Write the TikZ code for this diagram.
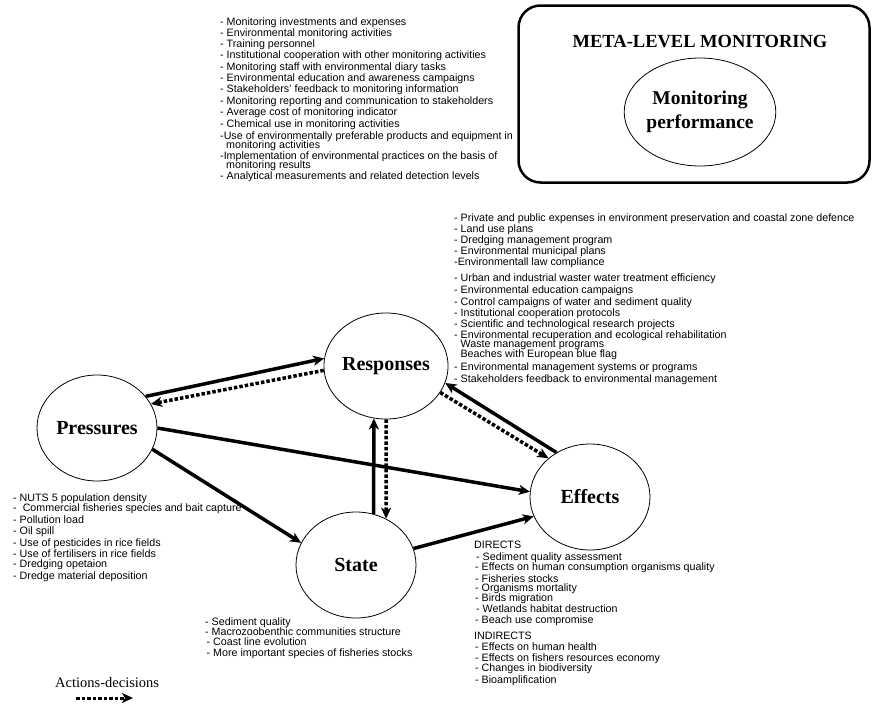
\documentclass[tikz,border=0pt]{standalone}
\usepackage{fontspec}
\setmainfont{Liberation Serif}
\setsansfont{Liberation Sans}
\usetikzlibrary{arrows.meta,shapes.geometric}
\begin{document}
\begin{tikzpicture}[x=1pt,y=-1pt,
  listtext/.style={font=\sffamily\fontsize{10.7}{11}\selectfont, anchor=base west, inner sep=0pt},
  stage/.style={draw, ellipse, line width=0.8pt, minimum width=120pt, minimum height=106pt, inner sep=0pt, font=\bfseries\fontsize{20}{22}\selectfont},
  flow/.style={line width=3.5pt, -{Stealth[length=11pt,width=10pt,inset=3pt]}},
  decision/.style={flow, dash pattern=on 3.5pt off 2pt}
]
\useasboundingbox (0,0) rectangle (872,707);

% meta-level box
\node[draw, line width=2.5pt, rounded corners=22pt, minimum width=351pt, minimum height=177pt, inner sep=0pt] (meta) at (694,94) {};
\node[font=\bfseries\fontsize{18.5}{20}\selectfont, inner sep=0pt] (metatitle) at (700,42) {META-LEVEL MONITORING};
\node[draw, ellipse, line width=0.8pt, minimum width=122pt, minimum height=108pt, inner sep=0pt, align=center, font=\bfseries\fontsize{19.5}{24}\selectfont] (mon) at (700,112) {Monitoring\\performance};

% stages
\node[stage] (P) at (97,428) {Pressures};
\node[stage] (R) at (386,366) {Responses};
\node[stage] (E) at (590,497) {Effects};
\node[stage] (S) at (356,565) {State};

% connectors
\draw[flow] (P.33) -- (R.173);
\draw[decision] (R.184) -- (P.24);
\draw[flow] (P.0) -- (E.175);
\draw[flow] (P.-21) -- (S.158);
\draw[flow] (S.71) -- (R.257);
\draw[decision] (R.270) -- (S.57);
\draw[flow] (S.16) -- (E.199);
\draw[flow] (E.127) -- (R.344);
\draw[decision] (R.334) -- (E.137);

% top list (monitoring)
\foreach \y/\t [count=\i] in {
 25/{- Monitoring investments and expenses},
 36/{- Environmental monitoring activities},
 47/{- Training personnel},
 58.5/{- Institutional cooperation with other monitoring activities},
 70/{- Monitoring staff with environmental diary tasks},
 81.5/{- Environmental education and awareness campaigns},
 92.5/{- Stakeholders’ feedback to monitoring information},
 104/{- Monitoring reporting and communication to stakeholders},
 115/{- Average cost of monitoring indicator},
 127/{- Chemical use in monitoring activities},
 139/{-Use of environmentally preferable products and equipment in},
 148/{\hspace*{6pt}monitoring activities},
 159/{-Implementation of environmental practices on the basis of},
 168/{\hspace*{6pt}monitoring results},
 179/{- Analytical measurements and related detection levels}}
 \node[listtext] (top\i) at (220,\y) {\t};

% responses list
\foreach \y/\t [count=\i] in {
 221/{- Private and public expenses in environment preservation and coastal zone defence},
 232/{- Land use plans},
 243/{- Dredging management program},
 254/{- Environmental municipal plans},
 265/{-Environmentall law compliance},
 281/{- Urban and industrial waster water treatment efficiency},
 293/{- Environmental education campaigns},
 305/{- Control campaigns of water and sediment quality},
 316/{- Institutional cooperation protocols},
 327/{- Scientific and technological research projects},
 338/{- Environmental recuperation and ecological rehabilitation},
 347/{\hspace*{6.4pt}Waste management programs},
 357/{\hspace*{6.4pt}Beaches with European blue flag},
 370/{- Environmental management systems or programs},
 382/{- Stakeholders feedback to environmental management}}
 \node[listtext] (resp\i) at (454,\y) {\t};

% pressures list
\foreach \y/\t [count=\i] in {
 501/{- NUTS 5 population density},
 511/{-\hspace*{6pt}Commercial fisheries species and bait capture},
 523/{- Pollution load},
 534/{- Oil spill},
 546/{- Use of pesticides in rice fields},
 557/{- Use of fertilisers in rice fields},
 567/{- Dredging opetaion},
 579/{- Dredge material deposition}}
 \node[listtext] (pres\i) at (13,\y) {\t};

% state list
\foreach \y/\t [count=\i] in {
 625/{- Sediment quality},
 635/{- Macrozoobenthic communities structure},
 645/{\hspace*{1.5pt}- Coast line evolution},
 656/{\hspace*{1.5pt}- More important species of fisheries stocks}}
 \node[listtext] (state\i) at (205,\y) {\t};

% effects list
\foreach \y/\t [count=\i] in {
 548/{DIRECTS},
 560/{\hspace*{2pt}- Sediment quality assessment},
 570/{\hspace*{1pt}- Effects on human consumption organisms quality},
 582/{\hspace*{1pt}- Fisheries stocks},
 591/{\hspace*{1pt}- Organisms mortality},
 601/{\hspace*{1pt}- Birds migration},
 612/{\hspace*{2pt}- Wetlands habitat destruction},
 623/{\hspace*{1pt}- Beach use compromise},
 639/{INDIRECTS},
 650/{\hspace*{1pt}- Effects on human health},
 661/{\hspace*{1pt}- Effects on fishers resources economy},
 671/{\hspace*{1pt}- Changes in biodiversity},
 683/{\hspace*{1pt}- Bioamplification}}
 \node[listtext] (eff\i) at (474,\y) {\t};

% legend
\node[font=\fontsize{14.5}{16}\selectfont, anchor=base west, inner sep=0pt] (legend) at (55,687) {Actions-decisions};
\coordinate (legA) at (76,698);
\coordinate (legB) at (133,698);
\draw[decision, line width=3pt] (legA) -- (legB);
\end{tikzpicture}
\end{document}
